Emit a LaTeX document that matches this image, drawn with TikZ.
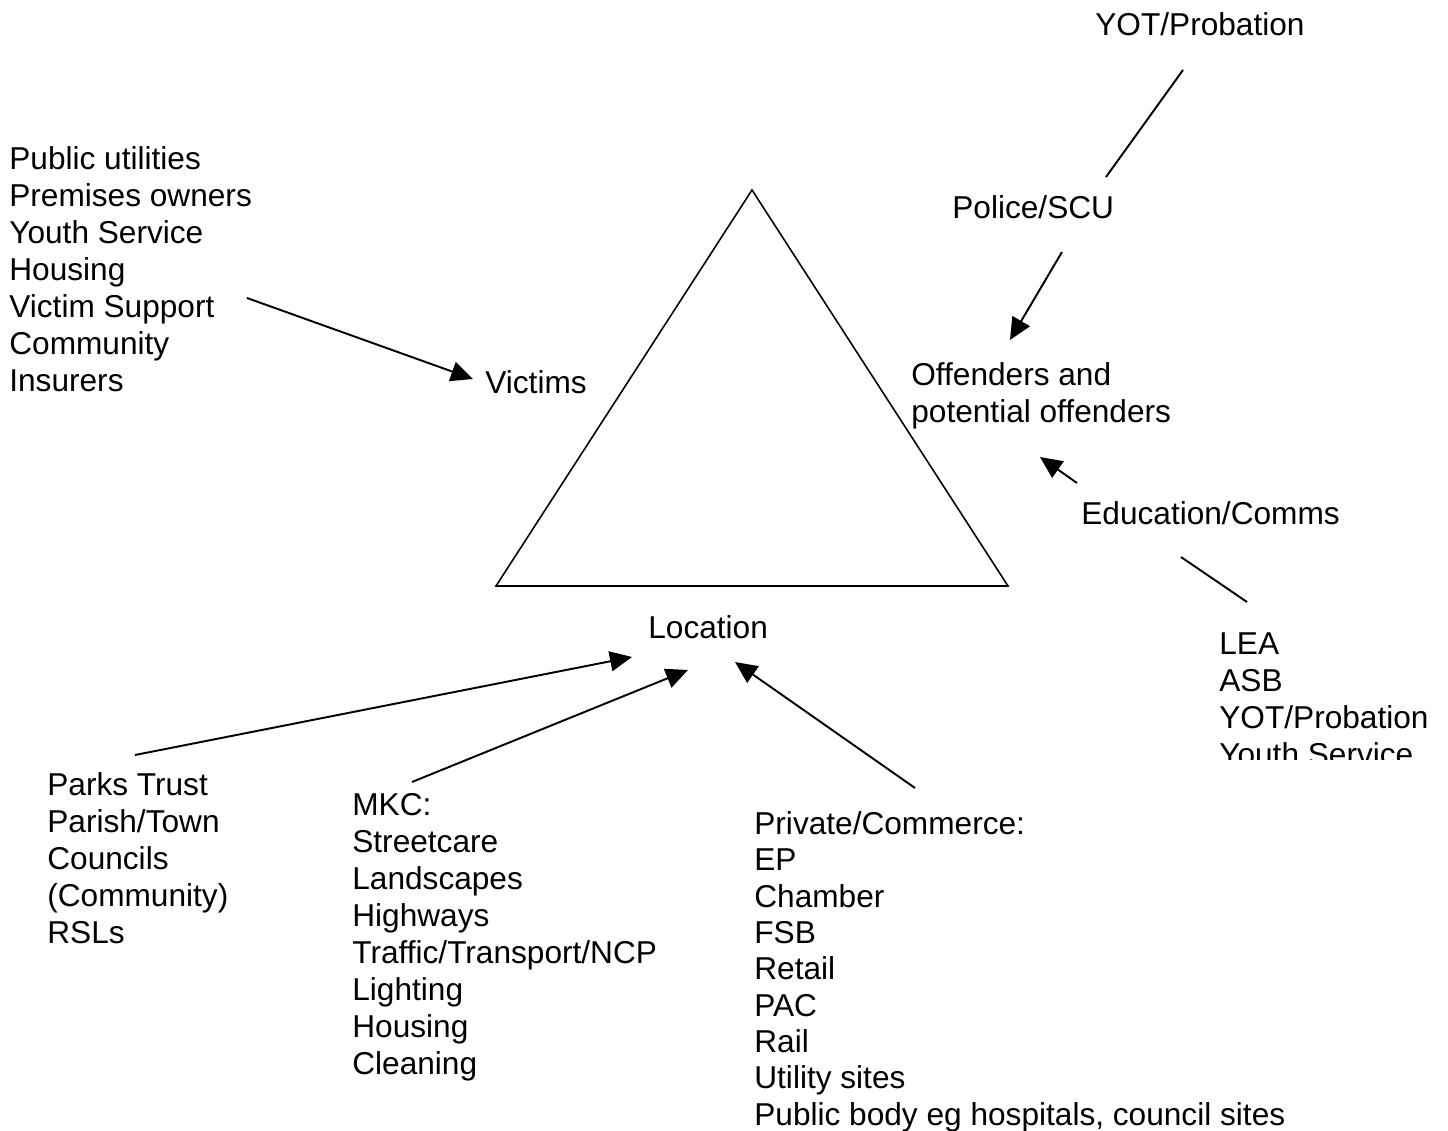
\documentclass[tikz,border=0pt]{standalone}
\usepackage{fontspec}
\setmainfont{Liberation Sans}
\usetikzlibrary{arrows.meta}
\tikzset{
    lbl/.style={anchor=north west, inner sep=0pt, align=left,
        font=\fontsize{18}{21.06}\selectfont},
    link/.style={line width=1.1pt},
    pointer/.style={link, -{Triangle[length=0.44cm, width=0.4cm]}}
}
\begin{document}
\begin{tikzpicture}[x=0.02cm, y=-0.02cm]
            \useasboundingbox (0,0) rectangle (1448,1131);
            % the triangle
            \coordinate (apex) at (752,190);
            \coordinate (lcorner) at (496,586);
            \coordinate (rcorner) at (1008,586);
            \draw[line width=0.9pt] (apex) -- (lcorner) -- (rcorner) -- cycle;
            % labels
            \node[lbl] (victims) at (485,370) {Victims};
            \node[lbl] (offenders) at (911,362) {Offenders and\\potential offenders};
            \node[lbl] (location) at (648,615) {Location};
            \node[lbl] (yot) at (1095,12) {YOT/Probation};
            \node[lbl] (police) at (952,195) {Police/SCU};
            \node[lbl] (education) at (1081,501) {Education/Comms};
            \node[lbl] (utilities) at (9,146) {Public utilities\\Premises owners\\Youth Service\\Housing\\Victim Support\\Community\\Insurers};
            \node[lbl] (parks) at (47,772) {Parks Trust\\Parish/Town\\Councils\\(Community)\\RSLs};
            \node[lbl] (mkc) at (352,793) {MKC:\\Streetcare\\Landscapes\\Highways\\Traffic/Transport/NCP\\Lighting\\Housing\\Cleaning};
            \node[lbl, font=\fontsize{18}{20.7}\selectfont] (private) at (754,811) {Private/Commerce:\\EP\\Chamber\\FSB\\Retail\\PAC\\Rail\\Utility sites\\Public body eg hospitals, council sites};
            \begin{scope}
                \clip (1150,600) rectangle (1448,760);
                \node[lbl] (lea) at (1219,632) {LEA\\ASB\\YOT/Probation\\Youth Service};
            \end{scope}
            % connectors
            \coordinate (yotend) at (1183,70);
            \coordinate (policetop) at (1106,177);
            \coordinate (policeend) at (1062,252);
            \coordinate (offtip) at (1010,340);
            \coordinate (utilend) at (247,298);
            \coordinate (victip) at (473,379);
            \coordinate (eduend) at (1077,483);
            \coordinate (edutip) at (1040,457);
            \coordinate (edubottom) at (1181,557);
            \coordinate (leaend) at (1247,602);
            \coordinate (parksend) at (135,755);
            \coordinate (parkstip) at (632,657);
            \coordinate (mkcend) at (412,782);
            \coordinate (mkctip) at (688,670);
            \coordinate (privend) at (915,788);
            \coordinate (privtip) at (735,662);
            \draw[link] (yotend) -- (policetop);
            \draw[pointer] (policeend) -- (offtip);
            \draw[pointer] (utilend) -- (victip);
            \draw[pointer] (eduend) -- (edutip);
            \draw[link] (edubottom) -- (leaend);
            \draw[pointer] (parksend) -- (parkstip);
            \draw[pointer] (mkcend) -- (mkctip);
            \draw[pointer] (privend) -- (privtip);
        \end{tikzpicture}
\end{document}
